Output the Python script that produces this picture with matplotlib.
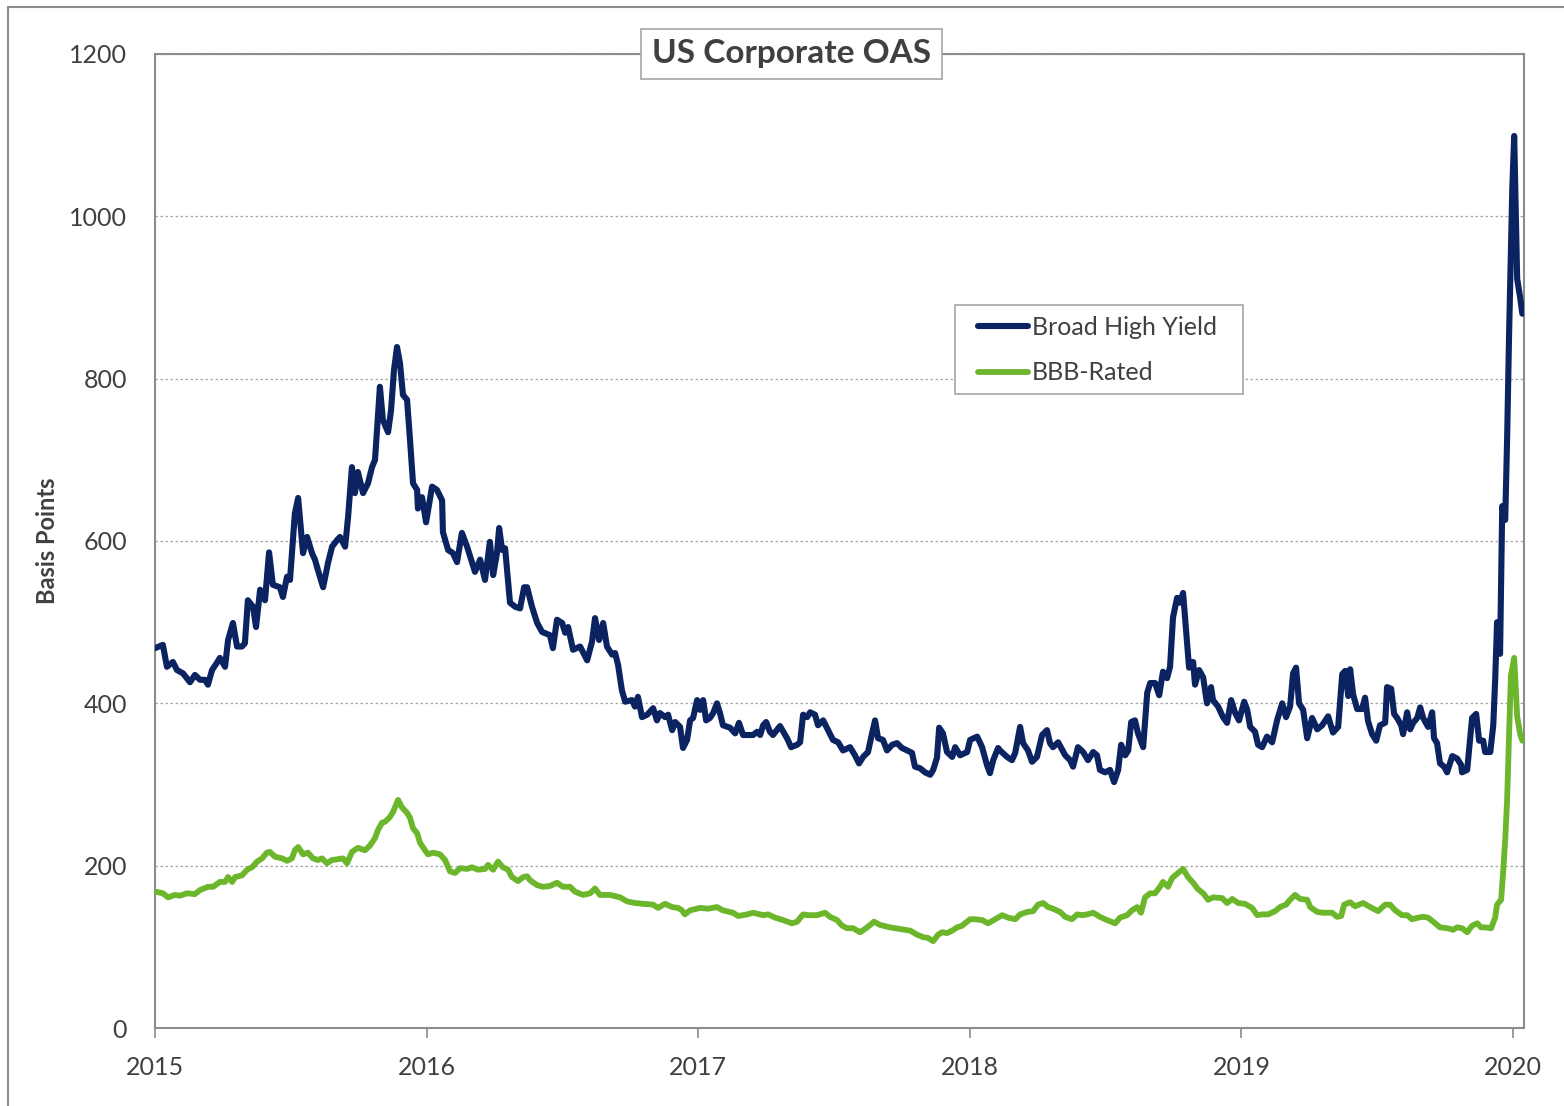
import matplotlib.pyplot as plt
from matplotlib.patches import Rectangle
import numpy as np

# --- Data: (years since Jan 2015, spread in bp) ---
high_yield = [
    (0.000, 468), (0.029, 472), (0.044, 445), (0.066, 451), (0.081, 441), (0.103, 437),
    (0.129, 426), (0.147, 435), (0.166, 429), (0.184, 429), (0.195, 423), (0.210, 441),
    (0.228, 450), (0.239, 456), (0.258, 445), (0.269, 478), (0.287, 499), (0.302, 470),
    (0.320, 470), (0.331, 474), (0.342, 527), (0.361, 519), (0.372, 494), (0.387, 540),
    (0.405, 527), (0.420, 586), (0.434, 546), (0.460, 543), (0.471, 531), (0.486, 556),
    (0.497, 552), (0.515, 634), (0.527, 653), (0.545, 585), (0.560, 605), (0.578, 585),
    (0.589, 577), (0.600, 564), (0.619, 543), (0.637, 573), (0.652, 593), (0.670, 601),
    (0.681, 605), (0.700, 593), (0.711, 630), (0.725, 691), (0.736, 659), (0.747, 685),
    (0.766, 659), (0.784, 671), (0.799, 691), (0.810, 700), (0.821, 755), (0.828, 790),
    (0.839, 749), (0.858, 734), (0.869, 761), (0.880, 811), (0.891, 839), (0.902, 819),
    (0.913, 780), (0.928, 774), (0.939, 724), (0.950, 671), (0.965, 663), (0.968, 640),
    (0.983, 654), (0.998, 623), (1.020, 667), (1.038, 663), (1.057, 650), (1.060, 611),
    (1.079, 589), (1.097, 585), (1.112, 574), (1.130, 610), (1.149, 593), (1.167, 574),
    (1.178, 562), (1.197, 577), (1.215, 552), (1.233, 599), (1.245, 558), (1.259, 585),
    (1.267, 616), (1.278, 589), (1.289, 591), (1.307, 524), (1.326, 519), (1.344, 517),
    (1.359, 543), (1.370, 543), (1.388, 519), (1.407, 499), (1.425, 488), (1.454, 484),
    (1.465, 468), (1.480, 503), (1.499, 499), (1.510, 487), (1.521, 494), (1.539, 466),
    (1.565, 470), (1.591, 453), (1.609, 476), (1.620, 505), (1.635, 478), (1.650, 499),
    (1.664, 470), (1.683, 460), (1.694, 462), (1.705, 447), (1.719, 416), (1.731, 402),
    (1.756, 404), (1.767, 396), (1.778, 408), (1.793, 383), (1.812, 386), (1.834, 394),
    (1.848, 379), (1.859, 388), (1.878, 383), (1.889, 386), (1.904, 367), (1.915, 377),
    (1.933, 371), (1.944, 345), (1.959, 355), (1.970, 379), (1.981, 382), (1.996, 404),
    (2.007, 392), (2.018, 404), (2.029, 379), (2.043, 382), (2.055, 388), (2.069, 400),
    (2.080, 388), (2.091, 373), (2.117, 370), (2.136, 363), (2.150, 376), (2.165, 361),
    (2.183, 361), (2.202, 361), (2.217, 365), (2.228, 361), (2.239, 373), (2.250, 377),
    (2.264, 365), (2.275, 361), (2.301, 372), (2.327, 357), (2.342, 346), (2.364, 349),
    (2.375, 352), (2.386, 386), (2.401, 383), (2.412, 389), (2.430, 386), (2.441, 373),
    (2.460, 379), (2.478, 367), (2.496, 355), (2.515, 352), (2.533, 342), (2.559, 346),
    (2.577, 336), (2.592, 326), (2.607, 334), (2.625, 340), (2.640, 363), (2.651, 379),
    (2.662, 357), (2.680, 355), (2.695, 342), (2.714, 349), (2.732, 351), (2.750, 345),
    (2.769, 342), (2.787, 339), (2.798, 322), (2.817, 320), (2.835, 315), (2.854, 312),
    (2.865, 318), (2.879, 333), (2.887, 370), (2.901, 363), (2.916, 340), (2.935, 334),
    (2.946, 346), (2.964, 336), (2.990, 340), (3.001, 355), (3.027, 359), (3.045, 346),
    (3.063, 324), (3.074, 314), (3.086, 330), (3.104, 345), (3.111, 342), (3.137, 334),
    (3.155, 330), (3.167, 339), (3.185, 371), (3.196, 351), (3.214, 342), (3.229, 328),
    (3.247, 334), (3.266, 361), (3.284, 367), (3.295, 351), (3.306, 346), (3.325, 352),
    (3.351, 336), (3.369, 330), (3.380, 322), (3.398, 346), (3.417, 340), (3.435, 330),
    (3.454, 340), (3.468, 336), (3.479, 318), (3.498, 315), (3.516, 318), (3.531, 303),
    (3.546, 318), (3.557, 349), (3.572, 336), (3.583, 342), (3.594, 377), (3.608, 379),
    (3.619, 363), (3.638, 346), (3.653, 413), (3.664, 425), (3.682, 425), (3.697, 410),
    (3.711, 439), (3.726, 431), (3.737, 445), (3.748, 506), (3.763, 530), (3.774, 524),
    (3.785, 536), (3.796, 490), (3.807, 444), (3.822, 451), (3.829, 423), (3.844, 441),
    (3.859, 432), (3.873, 400), (3.888, 420), (3.895, 404), (3.914, 396), (3.932, 383),
    (3.947, 376), (3.962, 404), (3.977, 388), (3.991, 379), (4.010, 402), (4.021, 392),
    (4.032, 371), (4.050, 365), (4.061, 349), (4.076, 346), (4.094, 359), (4.113, 352),
    (4.131, 379), (4.150, 400), (4.164, 383), (4.179, 396), (4.190, 437), (4.201, 444),
    (4.212, 400), (4.227, 392), (4.242, 357), (4.260, 382), (4.279, 368), (4.297, 373),
    (4.319, 384), (4.337, 364), (4.356, 371), (4.371, 436), (4.382, 440), (4.393, 409),
    (4.400, 442), (4.411, 411), (4.426, 393), (4.444, 393), (4.455, 407), (4.466, 378),
    (4.481, 362), (4.496, 354), (4.510, 373), (4.529, 376), (4.536, 420), (4.551, 418),
    (4.562, 387), (4.573, 382), (4.588, 373), (4.595, 362), (4.610, 389), (4.621, 368),
    (4.632, 376), (4.647, 382), (4.658, 395), (4.669, 382), (4.687, 371), (4.702, 389),
    (4.709, 357), (4.720, 351), (4.731, 326), (4.746, 322), (4.757, 315), (4.776, 335),
    (4.794, 332), (4.809, 324), (4.812, 315), (4.831, 318), (4.842, 357), (4.849, 382),
    (4.864, 387), (4.875, 354), (4.890, 354), (4.897, 340), (4.916, 340), (4.927, 373),
    (4.934, 429), (4.941, 500), (4.952, 461), (4.960, 643), (4.971, 626), (4.978, 726),
    (4.985, 851), (4.997, 1034), (5.004, 1099), (5.015, 923), (5.026, 900), (5.034, 880),
]

bbb_rated = [
    (0.000, 168), (0.029, 166), (0.048, 161), (0.074, 164), (0.092, 163), (0.118, 166),
    (0.147, 165), (0.166, 170), (0.195, 174), (0.214, 174), (0.239, 180), (0.258, 180),
    (0.269, 186), (0.284, 180), (0.295, 186), (0.320, 188), (0.339, 195), (0.357, 198),
    (0.376, 205), (0.394, 209), (0.412, 216), (0.423, 217), (0.442, 211), (0.468, 209),
    (0.486, 206), (0.504, 209), (0.515, 219), (0.527, 223), (0.545, 214), (0.563, 216),
    (0.582, 209), (0.600, 207), (0.615, 209), (0.633, 203), (0.652, 207), (0.674, 208),
    (0.692, 209), (0.707, 203), (0.725, 217), (0.747, 222), (0.773, 219), (0.792, 225),
    (0.810, 234), (0.821, 244), (0.836, 253), (0.847, 254), (0.865, 260), (0.876, 266),
    (0.895, 281), (0.909, 272), (0.928, 265), (0.939, 259), (0.950, 246), (0.965, 240),
    (0.976, 228), (0.994, 219), (1.005, 214), (1.024, 216), (1.049, 214), (1.068, 207),
    (1.086, 193), (1.105, 191), (1.123, 197), (1.149, 196), (1.167, 198), (1.189, 195),
    (1.215, 196), (1.226, 201), (1.245, 195), (1.263, 205), (1.281, 198), (1.300, 195),
    (1.314, 186), (1.337, 181), (1.355, 186), (1.370, 187), (1.381, 182), (1.407, 176),
    (1.429, 174), (1.454, 175), (1.480, 179), (1.502, 174), (1.528, 174), (1.546, 168),
    (1.576, 164), (1.602, 166), (1.620, 172), (1.638, 164), (1.675, 164), (1.712, 161),
    (1.738, 156), (1.767, 154), (1.797, 153), (1.834, 152), (1.852, 148), (1.878, 153),
    (1.904, 149), (1.926, 148), (1.940, 145), (1.951, 140), (1.970, 145), (2.007, 148),
    (2.036, 147), (2.069, 149), (2.091, 145), (2.128, 142), (2.147, 138), (2.180, 140),
    (2.202, 142), (2.239, 139), (2.257, 140), (2.283, 136), (2.312, 133), (2.345, 129),
    (2.364, 131), (2.386, 140), (2.404, 139), (2.437, 139), (2.467, 142), (2.485, 137),
    (2.511, 133), (2.530, 126), (2.548, 123), (2.570, 123), (2.596, 118), (2.622, 124),
    (2.647, 131), (2.669, 127), (2.706, 124), (2.743, 122), (2.780, 120), (2.806, 115),
    (2.828, 112), (2.846, 111), (2.865, 107), (2.883, 115), (2.898, 118), (2.916, 117),
    (2.935, 120), (2.953, 124), (2.971, 126), (2.982, 129), (3.001, 134), (3.019, 134),
    (3.045, 133), (3.067, 129), (3.093, 134), (3.119, 139), (3.141, 136), (3.167, 134),
    (3.185, 140), (3.211, 143), (3.233, 144), (3.251, 152), (3.270, 154), (3.288, 149),
    (3.306, 147), (3.332, 143), (3.351, 137), (3.376, 134), (3.395, 140), (3.413, 139),
    (3.432, 140), (3.454, 142), (3.479, 137), (3.505, 133), (3.535, 129), (3.553, 136),
    (3.579, 139), (3.597, 145), (3.616, 149), (3.630, 142), (3.645, 161), (3.664, 166),
    (3.682, 166), (3.700, 174), (3.711, 180), (3.730, 174), (3.745, 185), (3.767, 191),
    (3.785, 196), (3.803, 186), (3.822, 179), (3.840, 171), (3.859, 166), (3.877, 158),
    (3.896, 161), (3.929, 160), (3.947, 154), (3.966, 159), (3.988, 154), (4.013, 153),
    (4.039, 148), (4.058, 139), (4.076, 140), (4.098, 140), (4.124, 144), (4.142, 149),
    (4.164, 152), (4.179, 158), (4.197, 164), (4.216, 159), (4.242, 158), (4.253, 149),
    (4.279, 143), (4.301, 142), (4.334, 142), (4.352, 137), (4.367, 138), (4.378, 152),
    (4.400, 155), (4.418, 150), (4.448, 154), (4.474, 149), (4.503, 144), (4.529, 152),
    (4.547, 152), (4.566, 145), (4.591, 139), (4.610, 139), (4.628, 134), (4.650, 136),
    (4.669, 137), (4.687, 136), (4.706, 131), (4.731, 124), (4.757, 123), (4.779, 121),
    (4.794, 124), (4.812, 123), (4.831, 118), (4.849, 126), (4.868, 129), (4.882, 124),
    (4.897, 124), (4.919, 123), (4.934, 136), (4.941, 152), (4.956, 158), (4.963, 191),
    (4.971, 232), (4.978, 281), (4.985, 360), (4.992, 434), (5.004, 456), (5.015, 384),
    (5.026, 362), (5.034, 354),
]

years = [2015, 2016, 2017, 2018, 2019, 2020]
y_ticks = [0, 200, 400, 600, 800, 1000, 1200]

hy_t, hy_v = np.array(high_yield).T
bbb_t, bbb_v = np.array(bbb_rated).T

plt.rcParams["font.family"] = ["Lato", "DejaVu Sans"]
text_col = "#404040"
frame_col = "#8c8c8c"
box_col = "#a6a6a6"

fig = plt.figure(figsize=(15.64, 11.06), dpi=100)
ax = fig.add_axes([0.0991, 0.0705, 0.8753, 0.8807])

ax.plot(2015 + bbb_t, bbb_v, color="#6cb62c", lw=4.2, solid_joinstyle="round",
        solid_capstyle="round", label="BBB-Rated", zorder=3)
ax.plot(2015 + hy_t, hy_v, color="#0b2360", lw=4.4, solid_joinstyle="round",
        solid_capstyle="round", label="Broad High Yield", zorder=4)

ax.set_xlim(2015, 2020.04)
ax.set_ylim(0, 1200)
ax.set_xticks(years)
ax.set_xticklabels([str(y) for y in years])
ax.set_yticks(y_ticks)
ax.yaxis.grid(True, linestyle=(0, (2, 2)), color=box_col, lw=0.9)
ax.set_axisbelow(True)

for s in ax.spines.values():
    s.set_color(frame_col)
    s.set_linewidth(1.5)

ax.tick_params(axis="x", length=7, width=1.2, color=frame_col, pad=13,
               labelsize=18, labelcolor=text_col)
ax.tick_params(axis="y", length=0, pad=20, labelsize=18, labelcolor=text_col)

ax.set_ylabel("Basis Points", fontsize=17, fontweight="bold", color=text_col, labelpad=7)

# title in a framed box sitting on the top border
ax.text(0.465, 1.0, "US Corporate OAS", transform=ax.transAxes, ha="center", va="center",
        fontsize=24, fontweight="bold", color=text_col, zorder=10,
        bbox=dict(boxstyle="square,pad=0.32", facecolor="white", edgecolor=box_col, lw=1.2))

# legend (blue first), frame drawn separately
ax.add_patch(Rectangle((0.5844, 0.651), 0.2103, 0.0913, transform=ax.transAxes,
                       facecolor="white", edgecolor=box_col, lw=1.2, zorder=5))
handles, labels = ax.get_legend_handles_labels()
leg = ax.legend(handles[::-1], labels[::-1], loc="upper left", bbox_to_anchor=(0.6012, 0.731),
                fontsize=18, frameon=False, handlelength=2.0, handletextpad=0.15,
                labelspacing=0.9, borderpad=0, borderaxespad=0, labelcolor=text_col)
leg.set_zorder(6)

# outer chart border
fig.patches.append(Rectangle((8 / 1564, -0.05), 1.2, 1 - 7 / 1106 + 0.05, transform=fig.transFigure,
                             fill=False, edgecolor=frame_col, lw=1.5))

fig.savefig("out.png", dpi=100)
